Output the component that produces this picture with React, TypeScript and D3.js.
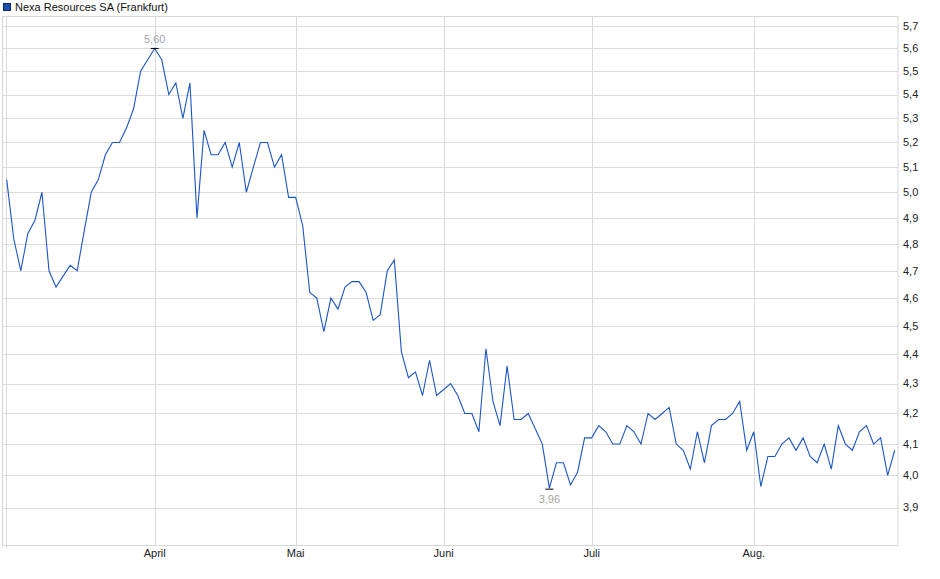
import React from "react";
import * as d3 from "d3";

const title = "Nexa Resources SA (Frankfurt)";

const prices: number[] = [
  5.05, 4.82, 4.70, 4.84, 4.89, 5.00, 4.70, 4.64, 4.68, 4.72,
  4.70, 4.85, 5.00, 5.05, 5.15, 5.20, 5.20, 5.26, 5.34, 5.50,
  5.55, 5.60, 5.55, 5.40, 5.45, 5.30, 5.45, 4.90, 5.25, 5.15,
  5.15, 5.20, 5.10, 5.20, 5.00, 5.10, 5.20, 5.20, 5.10, 5.15,
  4.98, 4.98, 4.87, 4.62, 4.60, 4.48, 4.60, 4.56, 4.64, 4.66,
  4.66, 4.62, 4.52, 4.54, 4.70, 4.74, 4.41, 4.32, 4.34, 4.26,
  4.38, 4.26, 4.28, 4.30, 4.26, 4.20, 4.20, 4.14, 4.42, 4.24,
  4.16, 4.36, 4.18, 4.18, 4.20, 4.15, 4.10, 3.96, 4.04, 4.04,
  3.97, 4.01, 4.12, 4.12, 4.16, 4.14, 4.10, 4.10, 4.16, 4.14,
  4.10, 4.20, 4.18, 4.20, 4.22, 4.10, 4.08, 4.02, 4.14, 4.04,
  4.16, 4.18, 4.18, 4.20, 4.24, 4.08, 4.14, 3.965, 4.06, 4.06,
  4.10, 4.12, 4.08, 4.12, 4.06, 4.04, 4.10, 4.02, 4.16, 4.10,
  4.08, 4.14, 4.16, 4.10, 4.12, 4.00, 4.08,
];

const monthLabels = ["April", "Mai", "Juni", "Juli", "Aug."];
const monthIndex = [21, 41, 62, 83, 106];

const yTicks = [3.9, 4.0, 4.1, 4.2, 4.3, 4.4, 4.5, 4.6, 4.7, 4.8, 4.9, 5.0, 5.1, 5.2, 5.3, 5.4, 5.5, 5.6, 5.7];

const W = 940;
const H = 579;
const left = 2.5;
const right = 898;
const top = 16;
const bottom = 545.5;

const fmt = (v: number, d: number) => v.toFixed(d).replace(".", ",");

export default function App() {
  const x = d3.scaleLinear().domain([0, prices.length - 1]).range([6.7, 894.7]);
  const y = d3.scaleLog().domain([3.785, 5.745]).range([bottom, top]);

  const line = d3
    .line<number>()
    .x((_, i) => x(i))
    .y((d) => y(d));

  const maxI = d3.maxIndex(prices);
  const minI = d3.minIndex(prices);

  const grid = "#dcdcdc";
  const font = "'Liberation Sans', Arial, sans-serif";

  return (
    <svg
      width={W}
      height={H}
      style={{ position: "absolute", left: 0, top: 0, background: "#fff" }}
      fontFamily={font}
    >
      {/* horizontal gridlines */}
      {yTicks.map((t) => (
        <line key={t} x1={left} x2={right} y1={Math.round(y(t)) + 0.5} y2={Math.round(y(t)) + 0.5} stroke={grid} strokeWidth={1} />
      ))}
      {/* vertical gridlines */}
      <line x1={6.5} x2={6.5} y1={top} y2={bottom + 3} stroke={grid} />
      {monthIndex.map((mi, k) => (
        <line key={k} x1={Math.round(x(mi)) + 0.5} x2={Math.round(x(mi)) + 0.5} y1={top} y2={bottom} stroke={grid} />
      ))}
      {/* frame */}
      <rect x={left} y={top + 0.5} width={right - left} height={bottom - top - 0.5} fill="none" stroke="#d6d6d6" />

      {/* y labels */}
      {yTicks.map((t) => (
        <text key={t} x={903} y={y(t)} dy="0.35em" fontSize={11} fill="#222">
          {fmt(t, 1)}
        </text>
      ))}
      {/* month labels */}
      {monthIndex.map((mi, k) => (
        <text key={k} x={x(mi)} y={557} textAnchor="middle" fontSize={11} fill="#222">
          {monthLabels[k]}
        </text>
      ))}

      {/* price line */}
      <path d={line(prices) || ""} fill="none" stroke="#1c56c4" strokeWidth={1.1} />

      {/* max marker */}
      <line x1={x(maxI) - 4} x2={x(maxI) + 4} y1={y(prices[maxI])} y2={y(prices[maxI])} stroke="#000" strokeWidth={1} />
      <text x={x(maxI)} y={y(prices[maxI]) - 9} dy="0.35em" textAnchor="middle" fontSize={11} fill="#9ea6b0">
        {fmt(prices[maxI], 2)}
      </text>
      {/* min marker */}
      <line x1={x(minI) - 4} x2={x(minI) + 4} y1={y(prices[minI]) + 1} y2={y(prices[minI]) + 1} stroke="#000" strokeWidth={1} />
      <text x={x(minI)} y={y(prices[minI]) + 11} dy="0.35em" textAnchor="middle" fontSize={11} fill="#a8a49c">
        {fmt(prices[minI], 2)}
      </text>

      {/* legend / title */}
      <rect x={3.5} y={3.5} width={7} height={7} fill="#1a50b0" stroke="#0a2a66" strokeWidth={1} />
      <text x={15} y={11} fontSize={11} fill="#111">
        {title}
      </text>
    </svg>
  );
}
